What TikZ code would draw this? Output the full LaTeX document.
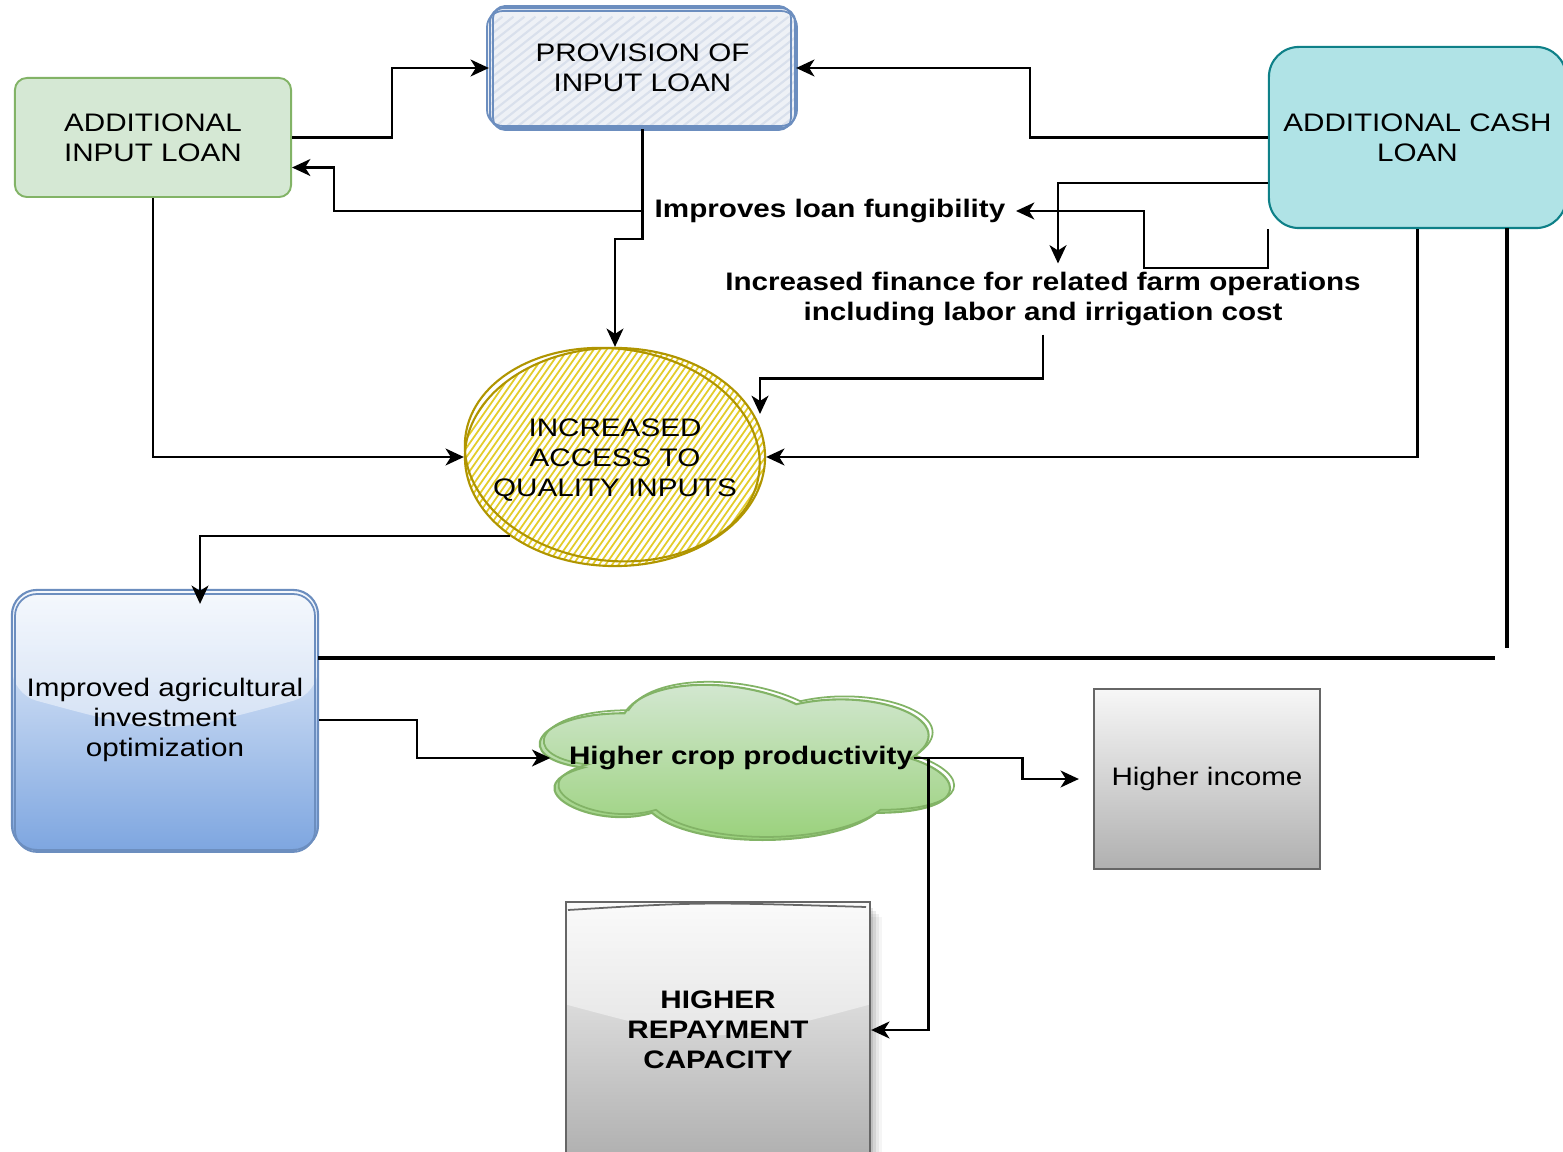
\documentclass[tikz,border=0pt]{standalone}
\usepackage{fontspec}
\setmainfont{Liberation Sans}[FakeStretch=1.17]
\usetikzlibrary{arrows.meta,shapes.geometric,calc}

\definecolor{ailfill}{HTML}{D5E8D4}
\definecolor{ailline}{HTML}{82B366}
\definecolor{pilfill}{HTML}{EEF1F6}
\definecolor{pilhatch}{HTML}{D9E0EC}
\definecolor{pilline}{HTML}{6C8EBF}
\definecolor{cashfill}{HTML}{B0E3E6}
\definecolor{cashline}{HTML}{0E8088}
\definecolor{acchatch}{HTML}{E3CC2A}
\definecolor{accline}{HTML}{B09500}
\definecolor{imptop}{HTML}{EEF4FC}
\definecolor{impbot}{HTML}{7EA6E0}
\definecolor{cloudtop}{HTML}{D5E8D4}
\definecolor{cloudbot}{HTML}{97D077}
\definecolor{graytop}{HTML}{F7F7F7}
\definecolor{graybot}{HTML}{B0B0B0}
\definecolor{grayline}{HTML}{666666}

\tikzset{
  txt/.style={align=center, inner sep=0pt},
  lbl/.style={align=center, font=\fontsize{7.2}{8.5}\selectfont\bfseries},
  conn/.style={draw=black, line width=0.7pt,
    -{Stealth[length=5.2pt,width=4.8pt,inset=1.5pt]}},
  heavy/.style={draw=black, line width=1.25pt},
  glass/.style={path picture={
    \fill[white, fill opacity=0.45]
      (path picture bounding box.north west)
      -- ($(path picture bounding box.north west)!0.4!(path picture bounding box.south west)$)
      .. controls ($(path picture bounding box.north)!0.56!(path picture bounding box.south)$)
      .. ($(path picture bounding box.north east)!0.4!(path picture bounding box.south east)$)
      -- (path picture bounding box.north east) -- cycle;}},
  greenbox/.style={rectangle, rounded corners=0.12cm, fill=ailfill, draw=ailline,
    line width=0.55pt, align=center, inner sep=0pt},
  % hatch lines are given relative to the node centre
  bluebox/.style={rectangle, rounded corners=0.14cm, draw=pilline, line width=0.6pt,
    align=center, inner sep=0pt, fill=pilfill,
    path picture={\foreach \i in {0,...,50}
      \draw[pilhatch, line width=0.6pt] ({-300+\i*11},75) -- ++(190,-150);}},
  cashbox/.style={rectangle, rounded corners=0.3cm, fill=cashfill, draw=cashline,
    line width=0.6pt, align=center, inner sep=0pt},
  hatchoval/.style={ellipse, draw=accline, line width=0.6pt, fill=white, inner sep=0pt,
    path picture={\foreach \i in {0,...,85}
      \draw[acchatch, line width=0.5pt] ({-340+\i*6.5},125) -- ++(175,-250);}},
  glassblue/.style={rectangle, rounded corners=0.25cm, top color=imptop, bottom color=impbot,
    draw=pilline, line width=0.6pt, align=center, inner sep=0pt, glass},
  graybox/.style={rectangle, top color=graytop, bottom color=graybot, draw=grayline,
    line width=0.6pt, align=center, inner sep=0pt},
}

\begin{document}
\begin{tikzpicture}[x=0.01cm, y=-0.01cm, font=\fontsize{7.2}{8.5}\selectfont]
\useasboundingbox (0,0) rectangle (1563,1152);

% ---------- top row ----------
\node[greenbox, minimum width=2.76cm, minimum height=1.19cm] (ail) at (153,137.5)
  {ADDITIONAL\\INPUT LOAN};

\node[bluebox, minimum width=3.05cm, minimum height=1.2cm] (pil) at (642.5,68)
  {PROVISION OF\\INPUT LOAN};
\draw[pilline, line width=0.5pt, rounded corners=0.16cm] (487,11) rectangle (797,126);
\draw[pilline, line width=0.5pt, rounded corners=0.12cm] (493,6) rectangle (791,130);

\node[cashbox, minimum width=2.97cm, minimum height=1.81cm] (cash) at (1417.5,137.5)
  {ADDITIONAL CASH\\LOAN};

% ---------- middle labels ----------
\node[lbl, inner xsep=0.1cm, inner ysep=0pt] (fung) at (830,211) {Improves loan fungibility};
\node[lbl, inner xsep=0pt, inner ysep=0.08cm] (fin) at (1043,299)
  {Increased finance for related farm operations\\including labor and irrigation cost};

% ---------- hatched oval ----------
\node[hatchoval, minimum width=3cm, minimum height=2.18cm] (acc) at (615,457) {};
\draw[accline, line width=0.6pt, rotate around={-7:(615,457)}] (612,455) ellipse [x radius=148, y radius=106];
\node[txt] (acct) at (615,460) {INCREASED\\ACCESS TO\\QUALITY INPUTS};

% ---------- glass box, left ----------
\node[glassblue, minimum width=3.06cm, minimum height=2.6cm] (imp) at (165,720)
  {Improved agricultural\\investment\\optimization};
\draw[pilline, line width=0.5pt, rounded corners=0.22cm] (15,594) rectangle (315,852);

% ---------- cloud ----------
\path[top color=cloudtop, bottom color=cloudbot, draw=ailline, line width=0.6pt]
  (624.5,713.25) .. controls (532.9,713.25) and (510,758.5) .. (583.3,767.55)
  .. controls (510,787.5) and (592.4,830.9) .. (652,812.8)
  .. controls (693.2,849) and (830.6,849) .. (876.4,812.8)
  .. controls (968,812.8) and (968,776.6) .. (910.75,758.5)
  .. controls (968,722.3) and (876.4,686.1) .. (796.25,704.2)
  .. controls (739,677) and (647.4,677) .. cycle;
\draw[ailline, line width=0.5pt, shift={(4,-3)}]
  (624.5,713.25) .. controls (532.9,713.25) and (510,758.5) .. (583.3,767.55)
  .. controls (510,787.5) and (592.4,830.9) .. (652,812.8)
  .. controls (693.2,849) and (830.6,849) .. (876.4,812.8)
  .. controls (968,812.8) and (968,776.6) .. (910.75,758.5)
  .. controls (968,722.3) and (876.4,686.1) .. (796.25,704.2)
  .. controls (739,677) and (647.4,677) .. cycle;
\node[lbl, inner sep=0pt] (crop) at (741,758) {Higher crop productivity};

% ---------- gray boxes ----------
\node[graybox, minimum width=2.26cm, minimum height=1.8cm] (inc) at (1207,779) {Higher income};

\foreach \s/\o in {3/0.10,6/0.08,9/0.06,12/0.04}
  \fill[black, opacity=\o] (575,{905+\s}) rectangle ({870+\s},1160);
\node[graybox, glass, minimum width=3.04cm, minimum height=2.55cm,
  font=\fontsize{7.2}{8.5}\selectfont\bfseries] (rep) at (718,1030)
  {HIGHER\\REPAYMENT\\CAPACITY};
\draw[grayline, line width=0.5pt] (568,910) .. controls (700,902) .. (866,907);

% ---------- connectors ----------
\draw[conn] (ail.east) -- ++(100,0) |- (pil.west);
\draw[conn] (cash.west) -- ++(-238,0) |- (pil.east);
\draw[conn] (pil.south) -- ++(0,110) -| (acc.north);
\draw[conn] (fung.west) -- ++(-310,0) |- ([yshift=-0.3cm]ail.east);
\draw[conn] (cash.south west) -- ++(0,39) -- ++(-124,0) |- (fung.east);
\draw[conn] (cash.west |- 0,183) -| ([xshift=0.15cm]fin.north);
\coordinate (accin) at (760,414);
\draw[conn] (fin.south) -- ++(0,44) -| (accin);
\draw[conn] (ail.south) |- (acc.west);
\draw[conn] (cash.south) |- (acc.east);
\draw[conn] (acc.217) -| ([xshift=0.35cm,yshift=-0.15cm]imp.north);
\draw[conn] (imp.east) -- ++(98,0) |- ([xshift=-0.18cm]crop.west);
\draw[conn] (crop.east) -- ++(109,0) |- ([xshift=-0.14cm]inc.west);
\draw[conn] ([xshift=0.15cm]crop.east) |- (rep.east);

% ---------- heavy separators ----------
\coordinate (vtop) at (1507,228);
\coordinate (vbot) at (1507,648);
\coordinate (hleft) at (318,658);
\coordinate (hright) at (1495,658);
\draw[heavy] (vtop) -- (vbot);
\draw[heavy] (hleft) -- (hright);
\end{tikzpicture}
\end{document}
